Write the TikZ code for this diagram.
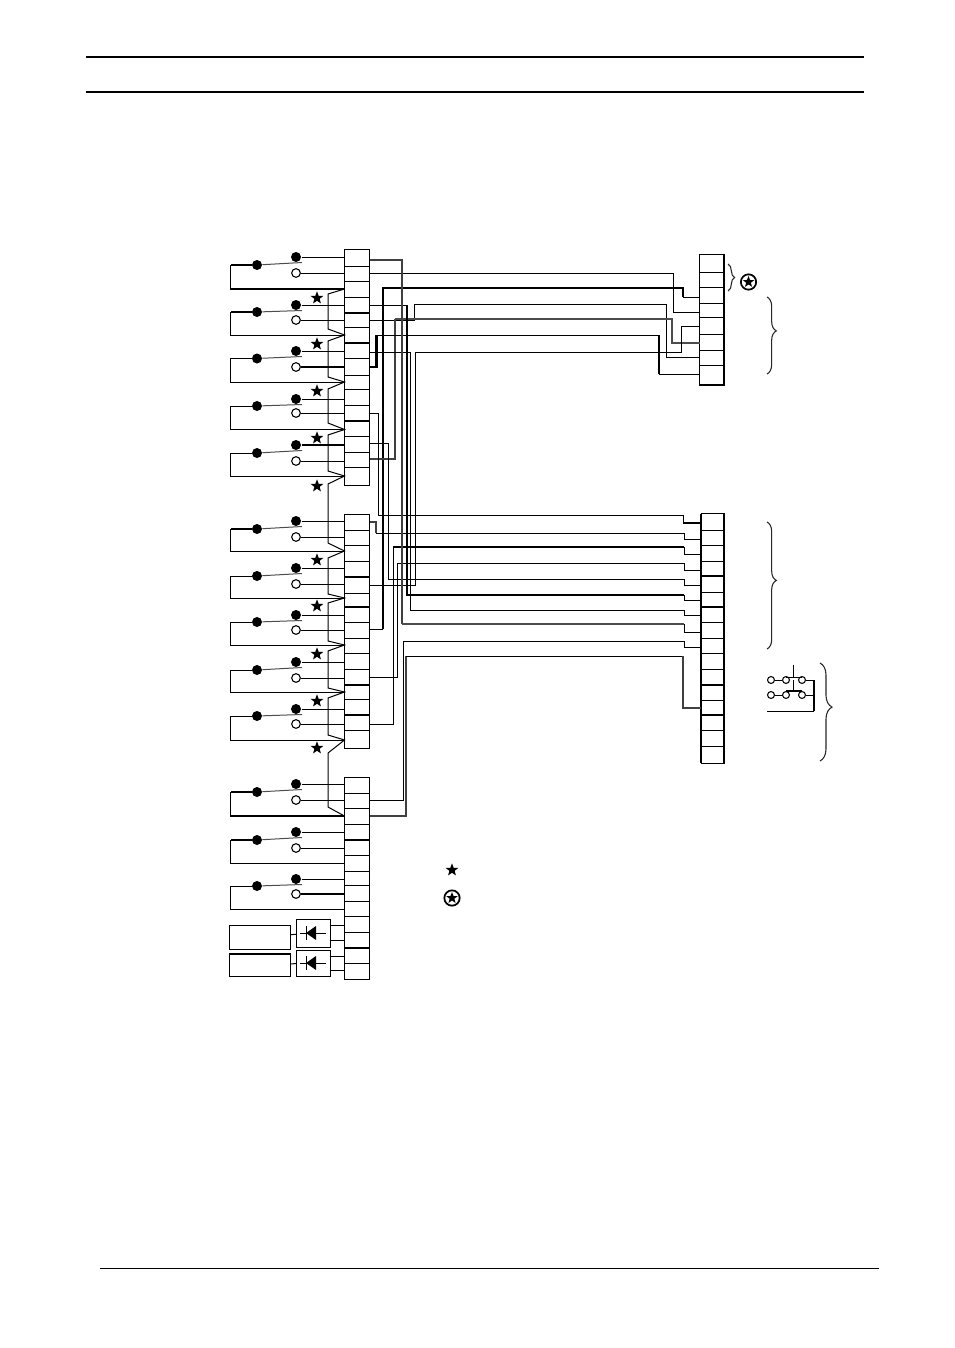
\documentclass[tikz,border=0pt]{standalone}
\usepackage{tikz}
\usetikzlibrary{shapes.geometric,decorations.pathreplacing}

\tikzset{
  wire/.style={line width=0.75pt},
  heavy/.style={line width=1.6pt},
  faded/.style={line width=1.1pt, black!75},
  fadedheavy/.style={line width=1.6pt, black!70},
  closedpin/.style={circle, fill=black, inner sep=0pt, minimum size=7.5pt},
  openpin/.style={circle, draw, fill=white, line width=0.8pt, inner sep=0pt, minimum size=6.5pt},
  tinypin/.style={circle, draw, fill=white, line width=0.8pt, inner sep=0pt, minimum size=5.2pt},
  starmark/.style={star, star points=5, star point ratio=2.4, fill=black, inner sep=0pt, minimum size=10pt},
  ringmark/.style={circle, draw, line width=1.3pt, inner sep=0pt, minimum size=11.5pt},
  boxnode/.style={draw, line width=0.75pt, inner sep=0pt, outer sep=0pt},
  curly/.style={decorate, decoration={brace, amplitude=#1}, line width=0.8pt, black!85},
}

\begin{document}
\begin{tikzpicture}[x=0.75pt, y=-0.75pt, wire]
        \useasboundingbox (0,0) rectangle (954,1348);
%        \foreach \x in {100,200,...,900} \node [font=\small] at (\x,20) {\x};
%        \foreach \y in {100,200,...,1300} \node [font=\small] at (20,\y) {\y};

        % page rules
        \draw [heavy] (86,57) -- (864,57);
        \draw [heavy] (86,92) -- (864,92);
        \draw (100,1268) -- (879,1268);

        % left terminal strips
        \draw (344.5,249.5) rectangle (369.5,485);
        \draw (344.5,514) rectangle (369.5,748);
        \draw (344.5,777) rectangle (369.5,979);
        \foreach \y in {266,281,297,327,358,375,389,405,436,452,467,
                        530,545,561,593,622,638,653,669,699,730,
                        793,808,824,855,871,885,901,916,932,963}
          \draw (344.5,\y) -- (369.5,\y);
        \foreach \y in {313,343,421,577,607,685,715,840,948}
          \draw [heavy] (344.5,\y) -- (369.5,\y);

        % right terminal strips
        \draw (699.5,254.5) rectangle (724,385);
        \draw [heavy] (724,254.5) -- (724,385) -- (699.5,385);
        \foreach \y in {272,287,303,317,334,350,365}
          \draw (699.5,\y) -- (724,\y);
        \draw (701,513.5) rectangle (724,763);
        \draw [heavy] (701,513.5) -- (701,763);
        \draw [heavy] (724,513.5) -- (724,763);
        \foreach \y in {530,545,561,592,622,638,653,669,700,730,746}
          \draw (701,\y) -- (724,\y);
        \foreach \y in {576,607,685,715}
          \draw [heavy] (701,\y) -- (724,\y);

        % changeover contacts
        \foreach \i/\t/\o/\c/\b in {1/257/273/265/289, 2/305/320/312/335, 3/351/367/358.5/382,
                                    4/399/413/406/429.5, 5/445/461/453/476,
                                    6/521/537/529/551, 7/568/584/576/598, 8/615/630/622/645,
                                    9/662/678/670/692, 10/709/724/716/740,
                                    11/784/800/792/816, 12/832/848/840/863, 13/879/894/886/909} {
          \node [closedpin] (tp\i) at (296,\t) {};
          \node [openpin] (op\i) at (296,\o) {};
          \node [closedpin] (cp\i) at (257,\c) {};
          \coordinate (tt\i) at (344.5,\t);
          \coordinate (ot\i) at (344.5,\o);
          \coordinate (bt\i) at (344.5,\b);
          \draw [black!70] (cp\i) -- (302,\t+5.5);
          \draw (tp\i) -- (tt\i);
          \draw (op\i) -- (ot\i);
          \draw (cp\i) -| (230.5,\b) -- (bt\i);
        }
        \foreach \i in {1,2,6,11,12}
          \draw [heavy] (cp\i) -- (cp\i -| 230.5,0);
        \foreach \i in {1,11}
          \draw [heavy] (bt\i) -- (bt\i -| 230.5,0);
        \draw [heavy] (op3) -- (ot3);
        \draw [heavy] (tp5) -- (tt5);
        \draw [heavy] (op13) -- (ot13);

        % zigzag common
        \draw (bt1) -- (328,294) -- (328,329) -- (bt2) -- (328,341) -- (328,377) -- (bt3)
              -- (328,389) -- (328,423) -- (bt4) -- (328,435) -- (328,471) -- (bt5)
              -- (328,484) -- (328,543) -- (bt6) -- (328,558) -- (328,594) -- (bt7)
              -- (328,603) -- (328,641) -- (bt8) -- (328,651) -- (328,688) -- (bt9)
              -- (328,698) -- (328,735) -- (bt10) -- (328,753) -- (328,807) -- (bt11);

        \foreach \n/\x/\y in {1/317/298, 2/317/344, 3/317/391, 4/317/438, 5/317/486,
                              6/317/560, 7/317/606, 8/317/654, 9/317/701, 10/317/748, 11/452/870}
          \node [starmark] (st\n) at (\x,\y) {};

        % diodes
        \node [boxnode, minimum width=25.5pt, minimum height=21pt] (dbox1) at (313.3,933) {};
        \node [boxnode, minimum width=25.5pt, minimum height=19.5pt] (dbox2) at (313.3,963) {};
        \node [boxnode, minimum width=46pt, minimum height=18pt] (relay1) at (260,937) {};
        \node [boxnode, minimum width=46pt, minimum height=16.5pt] (relay2) at (260,965) {};
        \draw [heavy] (relay2.north west) -- (relay2.north east);
        \draw (relay1) -- (dbox1);
        \draw (relay2) -- (dbox2);
        \foreach \n/\y in {1/925, 2/940, 3/956, 4/970}
          \coordinate (dt\n) at (344.5,\y);
        \draw (dt1) -- (dt1 -| dbox1.east);
        \draw (dt2) -- (dt2 -| dbox1.east);
        \draw (dt3) -- (dt3 -| dbox2.east);
        \draw (dt4) -- (dt4 -| dbox2.east);
        \foreach \y in {933,963} {
          \draw (300,\y) -- (326,\y);
          \draw (306,\y-7) -- (306,\y+7);
          \fill (306,\y) -- (316,\y-7) -- (316,\y+7) -- cycle;
        }

        % wire ends on the strips
        \foreach \n/\y in {1/260, 2/273, 3/305, 4/320, 5/352, 6/367, 7/413, 8/443, 9/459,
                           10/522, 11/585, 12/629, 13/677, 14/724, 15/800, 16/816}
          \coordinate (lw\n) at (369.5,\y);
        \foreach \n/\y in {1/297, 2/312, 3/326, 4/343, 5/357, 6/374}
          \coordinate (pw\n) at (699.5,\y);
        \foreach \n/\y in {1/523, 2/539, 3/554, 4/570, 5/585, 6/600, 7/615, 8/632, 9/647, 10/708}
          \coordinate (qw\n) at (701,\y);

        % wires to the upper right strip
        \draw (lw2) -- (673,273) |- (pw2);
        \draw (lw12) -- (383,629);
        \draw [heavy] (383,629) -- (383,288) -- (683,288) -- (683,297);
        \draw (683,297) -- (pw1);
        \draw (lw4) -| (414,304) -- (666,304) |- (pw5);
        \draw [faded] (lw9) -| (395,319);
        \draw [fadedheavy] (395,319) -- (672,319) |- (pw4);
        \draw (376.5,335) -- (659,335);
        \draw [heavy] (lw6) -| (376.5,335);
        \draw [heavy] (659,335) -- (659,374);
        \draw (659,374) -- (pw6);
        \draw (lw11) -| (415,352) -- (681,352) |- (pw3);

        % wires to the lower right strip
        \draw (lw7) -| (378.5,515) -- (683,515) -- (683,523);
        \draw [heavy] (683,523) -- (qw1);
        \draw [faded] (lw10) -| (376,533);
        \draw (376,533) -- (684,533) |- (qw2);
        \draw (lw14) -| (393,547);
        \draw [heavy] (393,547) -- (684,547);
        \draw (684,547) |- (qw3);
        \draw (lw13) -| (397,563) -- (684,563) |- (qw4);
        \draw (lw8) -| (388,579) -- (684,579) |- (qw5);
        \draw (lw3) -- (407,305);
        \draw [heavy] (407,305) -- (407,595) -- (684,595);
        \draw (684,595) |- (qw6);
        \draw (lw5) -| (410,610) -- (684,610) |- (qw7);
        \draw [faded] (lw1) -| (402,624);
        \draw [fadedheavy] (402,624) -- (684,624);
        \draw (684,624) |- (qw8);
        \draw (lw15) -| (403,641) -- (684,641) |- (qw9);
        \draw [faded] (lw16) -| (406,656);
        \draw (406,656) -- (683,656);
        \draw [faded] (683,656) |- (qw10);

        % braces
        \draw [curly=5pt] (728,264) -- (728,291);
        \draw [curly=7pt, decoration={aspect=0.44}] (767,297) -- (767,374);
        \draw [curly=7pt, decoration={aspect=0.46}] (767,522) -- (767,649);
        \draw [curly=9pt, decoration={aspect=0.45}] (820,663) -- (820,761);

        % circled marks
        \node [ringmark] (rg1) at (748.5,282) {};
        \node [starmark, minimum size=9pt] (rs1) at (rg1) {};
        \node [ringmark] (rg2) at (452,898) {};
        \node [starmark, minimum size=9pt] (rs2) at (rg2) {};

        % push button contacts
        \foreach \n/\x/\y in {1/771/680, 2/786/680, 3/802/680, 4/771/695, 5/786/695, 6/802/695}
          \node [tinypin] (sw\n) at (\x,\y) {};
        \draw (sw1) -- (sw2);
        \draw (sw4) -- (sw5);
        \draw (786,677) -- (802,677);
        \draw [line width=1.2pt] (786,691) -- (802,691);
        \draw (793,665) -- (793,677);
        \draw (793,680) -- (793,691);
        \draw (sw3) -- (814,680);
        \draw (sw6) -- (814,695);
        \draw [line width=1.2pt] (814,680) -- (814,711);
        \draw (814,711) -- (767,711);
\end{tikzpicture}
\end{document}
